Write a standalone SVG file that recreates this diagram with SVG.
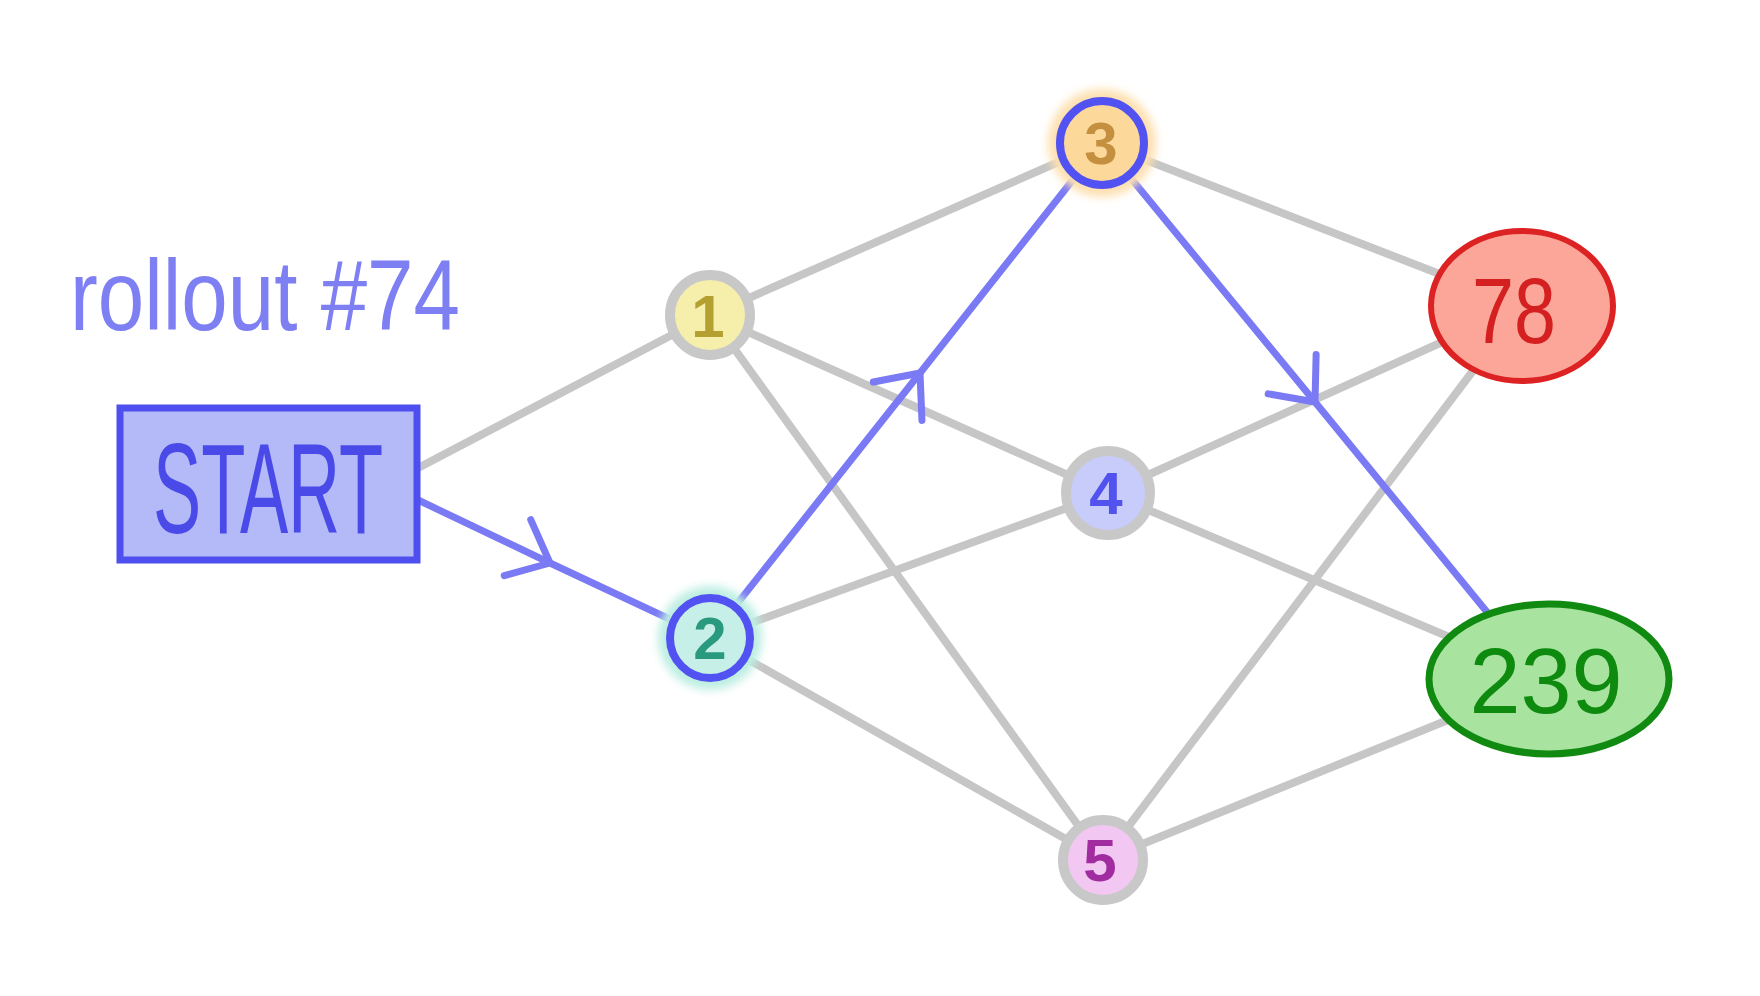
<svg xmlns="http://www.w3.org/2000/svg" width="1760" height="996" viewBox="0 0 1760 996">
<style>
.edge{fill:none;stroke:#c6c6c6;stroke-width:8;stroke-linecap:round}
.path{fill:none;stroke:#7a7af5;stroke-width:7;stroke-linecap:round;stroke-linejoin:round}
.num{font-family:"Liberation Sans",Arial,sans-serif;font-weight:bold;font-size:60px;text-anchor:middle}
.big{font-family:"Liberation Sans",Arial,sans-serif;font-size:92px;text-anchor:middle}
</style>
<defs>
<marker id="chev" markerUnits="userSpaceOnUse" markerWidth="100" markerHeight="100" viewBox="-50 -50 100 100" refX="0" refY="0" orient="auto" overflow="visible">
<path d="M -36 -31 L 0 0 L -36 31" fill="none" stroke="#7a7af5" stroke-width="7" stroke-linecap="round" stroke-linejoin="round"/>
</marker>
<filter id="soft" x="-50%" y="-50%" width="200%" height="200%"><feGaussianBlur stdDeviation="4"/></filter>
</defs>
<rect width="1760" height="996" fill="#ffffff"/>
<g id="connectors">
<line class="edge" x1="418" y1="468" x2="710" y2="315"/>
<line class="edge" x1="710" y1="315" x2="1102" y2="143"/>
<line class="edge" x1="710" y1="315" x2="1108" y2="493"/>
<line class="edge" x1="710" y1="315" x2="1103" y2="860"/>
<line class="edge" x1="710" y1="638" x2="1108" y2="493"/>
<line class="edge" x1="710" y1="638" x2="1103" y2="860"/>
<line class="edge" x1="1102" y1="143" x2="1522" y2="306"/>
<line class="edge" x1="1108" y1="493" x2="1522" y2="306"/>
<line class="edge" x1="1108" y1="493" x2="1549" y2="679"/>
<line class="edge" x1="1103" y1="860" x2="1522" y2="306"/>
<line class="edge" x1="1103" y1="860" x2="1549" y2="679"/>
<path class="path" d="M 418 500 L 550 563 L 710 638" marker-mid="url(#chev)"/>
<path class="path" d="M 710 638 L 920 373 L 1102 143" marker-mid="url(#chev)"/>
<path class="path" d="M 1102 143 L 1315 402 L 1487 612" marker-mid="url(#chev)"/>
</g>
<g id="label-rollout">
<text x="70" y="330" font-family="'Liberation Sans',Arial,sans-serif" font-size="100" fill="#7d7ff2" textLength="390" lengthAdjust="spacingAndGlyphs">rollout #74</text>
</g>
<g id="node-start">
<rect x="120" y="408" width="297" height="152" fill="#b4baf8" stroke="#4f4fef" stroke-width="7"/>
<text x="153" y="533" font-family="'Liberation Sans',Arial,sans-serif" font-size="128" fill="#4a4ae8" textLength="230" lengthAdjust="spacingAndGlyphs">START</text>
</g>
<g id="node-1">
<circle cx="710" cy="315" r="40" fill="#f6efac" stroke="#c8c8c8" stroke-width="10"/>
<text class="num" x="708" y="337" fill="#b4a030">1</text>
</g>
<g id="node-2">
<circle cx="710" cy="638" r="52" fill="#bdeee2" filter="url(#soft)"/>
<circle cx="710" cy="638" r="40" fill="#c6efe8" stroke="#5252f2" stroke-width="8"/>
<text class="num" x="710" y="659" fill="#2a9a7e">2</text>
</g>
<g id="node-3">
<circle cx="1102" cy="143" r="54" fill="#fde0b0" filter="url(#soft)"/>
<circle cx="1102" cy="143" r="42" fill="#fcd89a" stroke="#5252f2" stroke-width="8"/>
<text class="num" x="1101" y="164" fill="#c49040">3</text>
</g>
<g id="node-4">
<circle cx="1108" cy="493" r="42" fill="#c8ccfa" stroke="#c8c8c8" stroke-width="10"/>
<text class="num" x="1106" y="514" fill="#5252ee">4</text>
</g>
<g id="node-5">
<circle cx="1103" cy="860" r="40" fill="#f2c8f2" stroke="#c8c8c8" stroke-width="10"/>
<text class="num" x="1100" y="881" fill="#a02ca0">5</text>
</g>
<g id="node-78">
<ellipse cx="1522" cy="306" rx="91" ry="75" fill="#fca69a" stroke="#dc2222" stroke-width="6"/>
<text class="big" x="1514" y="343" fill="#d42020" textLength="84" lengthAdjust="spacingAndGlyphs">78</text>
</g>
<g id="node-239">
<ellipse cx="1549" cy="679" rx="120" ry="75" fill="#a8e4a0" stroke="#118a11" stroke-width="7"/>
<text class="big" x="1546" y="713" fill="#0e8a0e" textLength="153" lengthAdjust="spacingAndGlyphs">239</text>
</g>
</svg>
